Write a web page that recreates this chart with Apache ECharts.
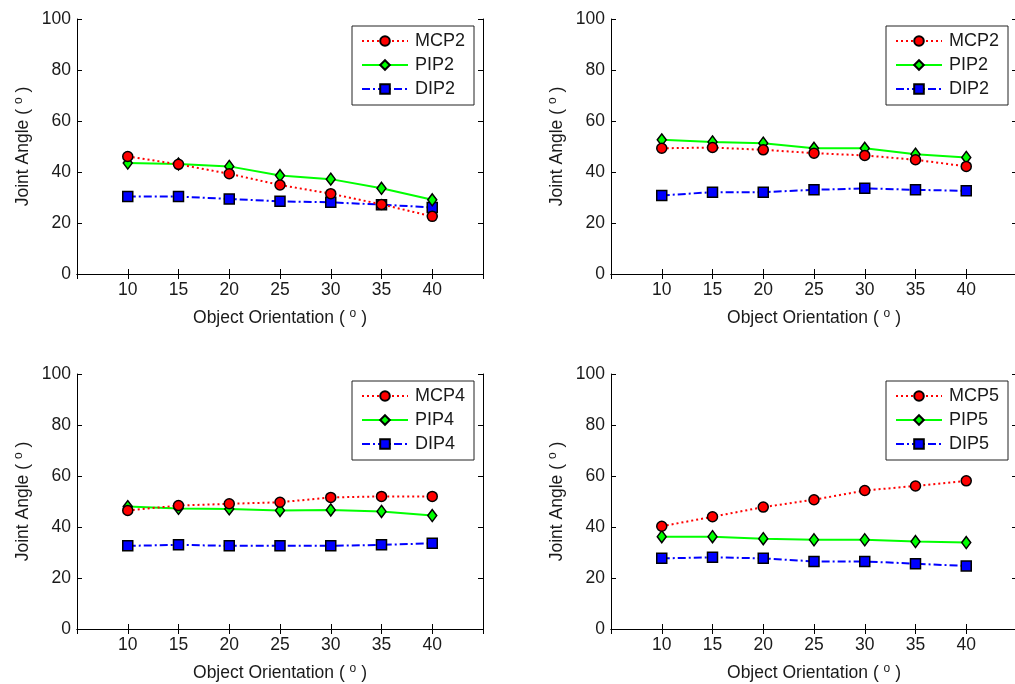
<!DOCTYPE html>
<html>
<head>
<meta charset="utf-8">
<script src="https://cdn.jsdelivr.net/npm/echarts@6/dist/echarts.min.js"></script>
<style>html,body{margin:0;padding:0;background:#fff;overflow:hidden}#c{width:1015px;height:684px}</style>
</head>
<body>
<div id="c"></div>
<script>
// ---- data ----
const orientation = [10, 15, 20, 25, 30, 35, 40];
const yTicks = [0, 20, 40, 60, 80, 100];

const mcp2a = [46.1, 43.0, 39.3, 34.9, 31.5, 27.3, 22.6];
const pip2a = [43.5, 43.1, 42.2, 38.6, 37.2, 33.6, 29.1];
const dip2a = [30.4, 30.4, 29.4, 28.5, 28.1, 27.2, 26.1];

const mcp2b = [49.3, 49.6, 48.7, 47.4, 46.5, 44.8, 42.2];
const pip2b = [52.6, 51.8, 51.3, 49.3, 49.3, 47.0, 45.7];
const dip2b = [30.8, 32.1, 32.1, 33.0, 33.6, 33.0, 32.6];

const mcp4 = [46.5, 48.4, 49.1, 49.7, 51.6, 52.0, 52.0];
const pip4 = [48.0, 47.3, 47.1, 46.5, 46.7, 46.1, 44.5];
const dip4 = [32.6, 33.0, 32.6, 32.6, 32.6, 33.0, 33.6];

const mcp5 = [40.3, 44.0, 47.8, 50.7, 54.3, 56.1, 58.1];
const pip5 = [36.2, 36.2, 35.4, 35.0, 35.0, 34.3, 33.9];
const dip5 = [27.7, 28.1, 27.7, 26.5, 26.5, 25.6, 24.7];

const panels = [
  { names: ['MCP2', 'PIP2', 'DIP2'], values: [mcp2a, pip2a, dip2a] },
  { names: ['MCP2', 'PIP2', 'DIP2'], values: [mcp2b, pip2b, dip2b] },
  { names: ['MCP4', 'PIP4', 'DIP4'], values: [mcp4, pip4, dip4] },
  { names: ['MCP5', 'PIP5', 'DIP5'], values: [mcp5, pip5, dip5] }
];
const xTitle = 'Object Orientation ( {sup|o} )';
const yTitle = 'Joint Angle ( {sup|o} )';

// ---- layout / style ----
const FONT = 'Liberation Sans, Arial, sans-serif';
const TXT = '#1a1a1a';
const FS = 17.5;
const gridPos = [
  { left: 77, top: 19 }, { left: 611, top: 19 },
  { left: 77, top: 374 }, { left: 611, top: 374 }
];
const GW = 406, GH = 255;
const styles = [
  { color: '#ff0000', type: [2, 3], symbol: 'circle', size: 10 },
  { color: '#00ff00', type: 'solid', symbol: 'diamond', size: [9, 12] },
  { color: '#0000ff', type: [8, 3, 2, 3], symbol: 'rect', size: 10 }
];
const rich = { sup: { fontSize: 12, verticalAlign: 'top', fontFamily: FONT, color: TXT, padding: [0, 0, 9, 0] } };

const grid = [], xAxis = [], yAxis = [], series = [], legend = [];
panels.forEach((p, i) => {
  const g = gridPos[i];
  grid.push({ left: g.left, top: g.top, width: GW, height: GH, containLabel: false, outerBoundsMode: 'none' });
  const xBase = {
    gridIndex: i, type: 'value', min: 5, max: 45, interval: 5,
    splitLine: { show: false },
    axisLine: { lineStyle: { color: '#000', width: 1 } },
    axisTick: { inside: true, length: 5, lineStyle: { color: '#000' } }
  };
  xAxis.push(Object.assign({}, xBase, {
    position: 'bottom',
    name: xTitle, nameLocation: 'middle', nameGap: 34,
    nameTextStyle: { fontSize: FS, fontFamily: FONT, color: TXT, rich: rich },
    axisLabel: {
      fontSize: FS, fontFamily: FONT, color: TXT, margin: 7,
      formatter: v => (orientation.indexOf(v) >= 0 ? String(v) : '')
    }
  }));
  xAxis.push(Object.assign({}, xBase, { position: 'top', axisLabel: { show: false } }));
  const yBase = {
    gridIndex: i, type: 'value', min: 0, max: 100, interval: 20,
    splitLine: { show: false },
    axisLine: { show: true, lineStyle: { color: '#000', width: 1 } },
    axisTick: { show: true, inside: true, length: 5, lineStyle: { color: '#000' } }
  };
  yAxis.push(Object.assign({}, yBase, {
    position: 'left',
    name: yTitle, nameLocation: 'middle', nameGap: 43, nameRotate: 90,
    nameTextStyle: { fontSize: FS, fontFamily: FONT, color: TXT, rich: rich },
    axisLabel: {
      fontSize: FS, fontFamily: FONT, color: TXT, margin: 6,
      formatter: v => (yTicks.indexOf(v) >= 0 ? String(v) : '')
    }
  }));
  yAxis.push(Object.assign({}, yBase, { position: 'right', axisLabel: { show: false } }));

  p.names.forEach((name, k) => {
    const s = styles[k];
    series.push({
      name: name, type: 'line',
      xAxisIndex: i * 2, yAxisIndex: i * 2,
      data: orientation.map((x, j) => [x, p.values[k][j]]),
      symbol: s.symbol, symbolSize: s.size,
      showAllSymbol: true,
      lineStyle: { color: s.color, width: 2, type: s.type },
      itemStyle: { color: s.color, borderColor: '#000', borderWidth: 1.5 },
      emphasis: { disabled: true },
      animation: false, z: 3 - k + 2
    });
  });

  legend.push({
    data: p.names,
    orient: 'vertical',
    left: g.left + 275, top: g.top + 7,
    padding: [6, 9, 7, 9],
    itemWidth: 46, itemHeight: 12, itemGap: 6,
    borderColor: '#222', borderWidth: 1,
    backgroundColor: '#fff',
    selectedMode: false,
    textStyle: { fontSize: 18, fontFamily: FONT, color: TXT, lineHeight: 14, padding: [0, 0, 0, 2] }
  });
});

const chart = echarts.init(document.getElementById('c'), null, { renderer: 'canvas' });
chart.setOption({
  animation: false,
  backgroundColor: '#fff',
  grid: grid, xAxis: xAxis, yAxis: yAxis, series: series, legend: legend
});
</script>
</body>
</html>
